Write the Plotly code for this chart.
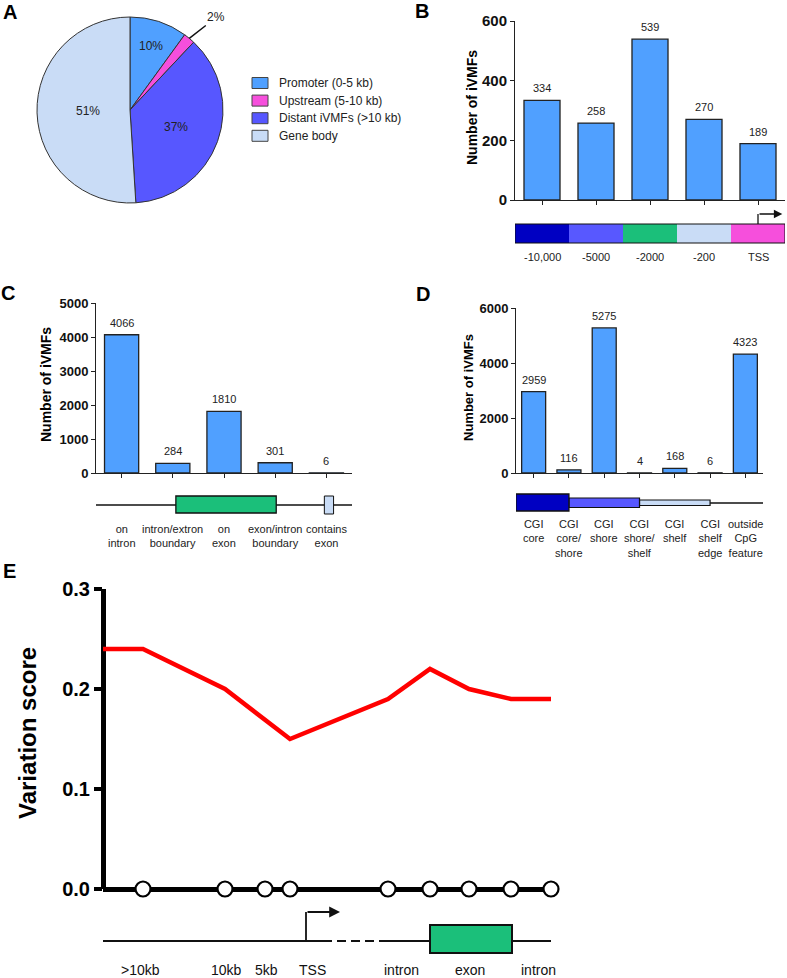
import numpy as np
import plotly.graph_objects as go

W, H = 787, 978
def px(x):
    return x / W
def py(y):
    return 1 - y / H

FONT = "Arial, Liberation Sans, Helvetica, sans-serif"

# ---------------- data ----------------
# Panel A
pie_labels = ["Promoter (0-5 kb)", "Upstream (5-10 kb)", "Distant iVMFs (>10 kb)", "Gene body"]
pie_values = [10, 2, 37, 51]
pie_text = ["10%", "2%", "37%", "51%"]
pie_colors = ["#50A0FF", "#F64FDC", "#5757FF", "#C9DCF6"]

# Panel B
b_cats = ["-10,000", "-5000", "-2000", "-200", "TSS"]
b_vals = [334, 258, 539, 270, 189]
b_band_colors = ["#0000C2", "#5858FF", "#1BBF7A", "#C9DCF6", "#F64FDC"]

# Panel C
c_cats = ["on<br>intron", "intron/extron<br>boundary", "on<br>exon", "exon/intron<br>boundary", "contains<br>exon"]
c_vals = [4066, 284, 1810, 301, 6]

# Panel D
d_cats = ["CGI<br>core", "CGI<br>core/<br>shore", "CGI<br>shore", "CGI<br>shore/<br>shelf",
          "CGI<br>shelf", "CGI<br>shelf<br>edge", "outside<br>CpG<br>feature"]
d_vals = [2959, 116, 5275, 4, 168, 6, 4323]

# Panel E
e_pos = [0, 4.0, 12.2, 16.2, 18.7, 28.5, 32.7, 36.6, 40.8, 44.8]
e_score = [0.24, 0.24, 0.20, 0.17, 0.15, 0.19, 0.22, 0.20, 0.19, 0.19]
e_label_pos = [3.7, 12.3, 16.3, 20.9, 29.8, 36.7, 43.5]
e_labels = [">10kb", "10kb", "5kb", "TSS", "intron", "exon", "intron"]

BAR_COLOR = "#50A0FF"
GREEN = "#1BBF7A"

fig = go.Figure()
annotations = []
shapes = []

def ann(**kw):
    d = dict(showarrow=False, xanchor="center", yanchor="middle")
    d.update(kw)
    annotations.append(d)

# ---------------- Panel A: pie ----------------
pie_x0, pie_x1, pie_y0, pie_y1 = 37, 223, 17, 203
fig.add_trace(go.Pie(
    labels=pie_labels, values=pie_values,
    marker=dict(colors=pie_colors, line=dict(color="#333333", width=1)),
    sort=False, direction="clockwise", rotation=0,
    textinfo="none", hoverinfo="label+percent", automargin=False,
    domain=dict(x=[px(pie_x0), px(pie_x1)], y=[py(pie_y1), py(pie_y0)]),
    showlegend=False,
))
cx, cy, R = (pie_x0 + pie_x1) / 2, (pie_y0 + pie_y1) / 2, (pie_x1 - pie_x0) / 2
vals = np.array(pie_values, dtype=float)
cum = np.cumsum(vals) - vals / 2
mid_ang = cum / vals.sum() * 2 * np.pi
rfrac = [0.72, None, 0.53, 0.45]
for i, t in enumerate(pie_text):
    a = mid_ang[i]
    if rfrac[i] is not None:
        x = cx + rfrac[i] * R * np.sin(a)
        y = cy - rfrac[i] * R * np.cos(a)
        ann(x=px(x), y=py(y), xref="paper", yref="paper", text=t, font=dict(size=12, color="#222"))
    else:
        ex = cx + R * np.sin(a)
        ey = cy - R * np.cos(a)
        ann(x=px(ex), y=py(ey), xref="paper", yref="paper", text=t,
            showarrow=True, arrowhead=0, arrowwidth=1.5, arrowcolor="#111",
            ax=27, ay=-21, standoff=0, font=dict(size=12, color="#222"))

# legend of the pie, built from its labels and colours
leg_top, leg_step = 83, 17.6
for i, (lab, col) in enumerate(zip(pie_labels, pie_colors)):
    yc = leg_top + i * leg_step
    shapes.append(dict(type="rect", xref="paper", yref="paper", x0=px(252), x1=px(268),
                       y0=py(yc + 5.5), y1=py(yc - 5.5), fillcolor=col,
                       line=dict(color="#444", width=1)))
    ann(x=px(277), y=py(yc), xref="paper", yref="paper", text=lab, xanchor="left",
        font=dict(size=12, color="#222"))

# ---------------- axis helpers ----------------
def bar_xaxis(dom, cats, anchor):
    return dict(domain=dom, anchor=anchor, type="category", categoryorder="array", categoryarray=cats,
                range=[-0.5, len(cats) - 0.5], showline=True, linecolor="#222", automargin=False,
                linewidth=1, ticks="outside", ticklen=4, tickcolor="#222", showticklabels=False,
                showgrid=False, zeroline=False, fixedrange=True)

def bar_yaxis(dom, rng, dt, anchor, fs):
    return dict(domain=dom, anchor=anchor, range=rng, dtick=dt, showline=True, linecolor="#222",
                linewidth=1, ticks="outside", ticklen=4, tickcolor="#222", automargin=False,
                tickfont=dict(size=fs, family=FONT, color="#111", weight="bold"),
                showgrid=False, zeroline=False, fixedrange=True)

def add_bars(cats, vals, xa, ya, width):
    fig.add_trace(go.Bar(x=cats, y=vals, xaxis=xa, yaxis=ya, width=width,
                         marker=dict(color=BAR_COLOR, line=dict(color="#222", width=1.3)),
                         showlegend=False, hoverinfo="y"))
    for i, v in enumerate(vals):
        ann(x=i, y=v, xref=xa, yref=ya, text=str(v), yshift=12, font=dict(size=11, color="#222"))

# ---------------- Panel B ----------------
add_bars(b_cats, b_vals, "x2", "y2", 0.667)
for i, col in enumerate(b_band_colors):
    shapes.append(dict(type="rect", xref="x2", yref="paper", x0=i - 0.5, x1=i + 0.5,
                       y0=py(243), y1=py(224), fillcolor=col, line=dict(width=0), layer="above"))
shapes.append(dict(type="rect", xref="x2", yref="paper", x0=-0.5, x1=len(b_cats) - 0.5,
                   y0=py(243), y1=py(224), line=dict(color="#111", width=1)))
for i, c in enumerate(b_cats):
    ann(x=i, y=py(257), xref="x2", yref="paper", text=c, font=dict(size=11, color="#222"))
tss_i = len(b_cats) - 1
shapes.append(dict(type="line", xref="x2", yref="paper", x0=tss_i, x1=tss_i, y0=py(224), y1=py(214),
                   line=dict(color="#111", width=1.3)))
ann(x=tss_i + 0.45, y=py(214), xref="x2", yref="paper", ax=tss_i, axref="x2",
    ay=0, ayref="pixel", text="", showarrow=True, arrowhead=2, arrowsize=1.3,
    arrowwidth=1.3, arrowcolor="#111", standoff=0)

# ---------------- Panel C ----------------
add_bars(c_cats, c_vals, "x3", "y3", 0.667)
shapes.append(dict(type="line", xref="x3", yref="paper", x0=-0.5, x1=len(c_cats) - 0.45,
                   y0=py(505), y1=py(505), line=dict(color="#111", width=1.5)))
shapes.append(dict(type="rect", xref="x3", yref="paper", x0=1.06, x1=3.02, y0=py(513), y1=py(496),
                   fillcolor=GREEN, line=dict(color="#111", width=1.3)))
shapes.append(dict(type="rect", xref="x3", yref="paper", x0=3.96, x1=4.14, y0=py(514), y1=py(496),
                   fillcolor="#C9DCF6", line=dict(color="#111", width=1)))
for i, c in enumerate(c_cats):
    ann(x=i, y=py(521), xref="x3", yref="paper", text=c, yanchor="top", font=dict(size=11, color="#222"))

# ---------------- Panel D ----------------
add_bars(d_cats, d_vals, "x4", "y4", 0.68)
shapes.append(dict(type="line", xref="x4", yref="paper", x0=5.0, x1=len(d_cats) - 0.5,
                   y0=py(503), y1=py(503), line=dict(color="#111", width=1.5)))
shapes.append(dict(type="rect", xref="x4", yref="paper", x0=3.0, x1=5.0, y0=py(505.5), y1=py(500),
                   fillcolor="#C9DCF6", line=dict(color="#111", width=1.2)))
shapes.append(dict(type="rect", xref="x4", yref="paper", x0=1.0, x1=3.0, y0=py(507.5), y1=py(498),
                   fillcolor="#5858FF", line=dict(color="#111", width=1.2)))
shapes.append(dict(type="rect", xref="x4", yref="paper", x0=-0.5, x1=1.0, y0=py(511), y1=py(494),
                   fillcolor="#0000C2", line=dict(color="#111", width=1.3)))
for i, c in enumerate(d_cats):
    ann(x=i, y=py(516), xref="x4", yref="paper", text=c, yanchor="top", font=dict(size=11, color="#222"))

# ---------------- Panel E ----------------
fig.add_trace(go.Scatter(x=e_pos, y=e_score, xaxis="x5", yaxis="y5", mode="lines",
                         line=dict(color="#FF0000", width=4.5), cliponaxis=False,
                         showlegend=False, hoverinfo="y"))
fig.add_trace(go.Scatter(x=e_pos[1:], y=[0] * (len(e_pos) - 1), xaxis="x5", yaxis="y5", mode="markers",
                         marker=dict(size=15, color="white", line=dict(color="black", width=2.2)),
                         cliponaxis=False, showlegend=False, hoverinfo="skip"))
for xp, lab in zip(e_label_pos, e_labels):
    ann(x=xp, y=py(970), xref="x5", yref="paper", text=lab, font=dict(size=14, color="#111"))
yline = py(941)
shapes += [
    dict(type="line", xref="x5", yref="paper", x0=-0.5, x1=22.9, y0=yline, y1=yline,
         line=dict(color="#111", width=2)),
    dict(type="line", xref="x5", yref="paper", x0=23.4, x1=27.4, y0=yline, y1=yline,
         line=dict(color="#111", width=2, dash="9px,5px")),
    dict(type="line", xref="x5", yref="paper", x0=27.6, x1=45.2, y0=yline, y1=yline,
         line=dict(color="#111", width=2)),
    dict(type="rect", xref="x5", yref="paper", x0=32.7, x1=40.9, y0=py(953), y1=py(925),
         fillcolor=GREEN, line=dict(color="#111", width=2)),
    dict(type="line", xref="x5", yref="paper", x0=20.3, x1=20.3, y0=yline, y1=py(912),
         line=dict(color="#111", width=1.8)),
]
ann(x=23.7, y=py(912), xref="x5", yref="paper", ax=20.3, axref="x5",
    ay=0, ayref="pixel", text="", showarrow=True, arrowhead=2, arrowsize=1.2,
    arrowwidth=1.8, arrowcolor="#111", standoff=0)

# ---------------- panel letters and axis titles ----------------
for letter, (x, y) in {"A": (10, 12), "B": (422, 11), "C": (8, 293), "D": (423, 294), "E": (9, 571)}.items():
    ann(x=px(x), y=py(y), xref="paper", yref="paper", text=letter,
        font=dict(size=20, color="black", weight="bold"))
for (x, y, fs) in [(472, 108, 14), (46, 385, 14), (468, 388, 13)]:
    ann(x=px(x), y=py(y), xref="paper", yref="paper", text="Number of iVMFs",
        textangle=-90, font=dict(size=fs, color="black", weight="bold"))
ann(x=px(27), y=py(733), xref="paper", yref="paper", text="Variation score",
    textangle=-90, font=dict(size=24, color="black", weight="bold"))

fig.update_layout(
    width=W, height=H, margin=dict(l=0, r=0, t=0, b=0, pad=0, autoexpand=False),
    paper_bgcolor="white", plot_bgcolor="rgba(0,0,0,0)",
    font=dict(family=FONT, color="#222"),
    showlegend=False,
    xaxis2=bar_xaxis([px(515), px(785)], b_cats, "y2"),
    yaxis2=bar_yaxis([py(200), py(21)], [0, 600], 200, "x2", 15),
    xaxis3=bar_xaxis([px(96), px(352)], c_cats, "y3"),
    yaxis3=bar_yaxis([py(473), py(303)], [0, 5000], 1000, "x3", 13),
    xaxis4=bar_xaxis([px(516), px(763)], d_cats, "y4"),
    yaxis4=bar_yaxis([py(473), py(308)], [0, 6000], 2000, "x4", 13),
    xaxis5=dict(domain=[px(103), px(551)], anchor="y5", range=[0, e_pos[-1]], showline=False,
                zeroline=True, zerolinewidth=4.5, zerolinecolor="black", showticklabels=False,
                ticks="", showgrid=False, fixedrange=True, automargin=False),
    yaxis5=dict(domain=[py(889), py(589)], anchor="x5", range=[0, 0.3], dtick=0.1, tickformat=".1f",
                showline=False, zeroline=True, zerolinewidth=4.5, zerolinecolor="black",
                ticks="outside", ticklen=8, tickwidth=4, tickcolor="black", showgrid=False, automargin=False,
                tickfont=dict(size=20, family=FONT, color="black", weight="bold"), fixedrange=True),
    annotations=annotations,
    shapes=shapes,
)

fig.write_html("out.html", config={"displayModeBar": False},
               post_script="document.body.style.margin='0';document.body.style.overflow='hidden';")
